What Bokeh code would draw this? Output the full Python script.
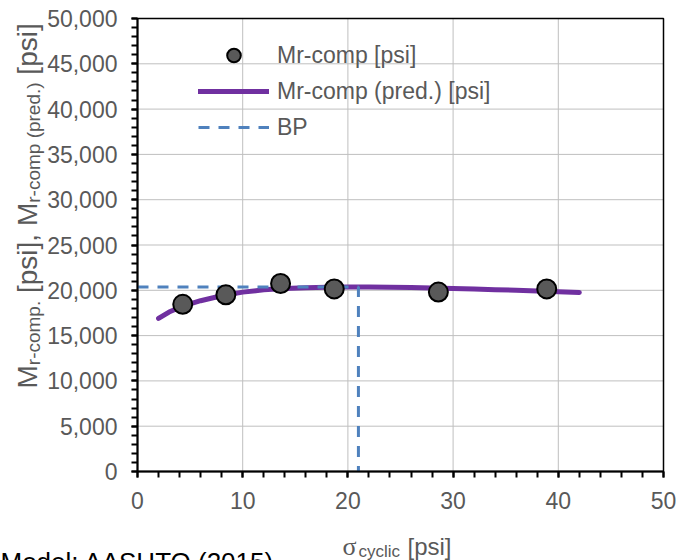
import math
from bokeh.plotting import figure
from bokeh.models import (Label, Legend, LegendItem, LinearAxis,
                          NumeralTickFormatter, SingleIntervalTicker, Range1d)
from bokeh.embed import file_html
from bokeh.resources import INLINE

# Measured resilient modulus vs cyclic stress
sigma_cyclic = [4.3, 8.4, 13.6, 18.7, 28.6, 38.9]
mr_comp = [18450, 19500, 20750, 20150, 19800, 20150]

# Model prediction (AASHTO 2015)
pred_sigma = [2, 3, 4, 5, 6, 8, 10, 12, 14, 16, 18, 20, 22, 24, 26, 28, 30,
              32, 34, 36, 38, 40, 42]
pred_mr = [16900, 17600, 18100, 18500, 18850, 19400, 19800, 20050, 20200,
           20280, 20330, 20360, 20360, 20340, 20300, 20250, 20200, 20140,
           20070, 20000, 19930, 19850, 19760]

# Break point
bp_sigma = 21.0
bp_mr = 20370

# Axis extents and tick spacing
X_MAX, X_STEP = 50, 10
Y_MAX, Y_STEP = 50000, 5000

GRAY_TEXT = "#595959"
GRID = "#BFBFBF"
FONT = "Liberation Sans"

W_CANVAS, H_CANVAS = 676, 560
# plot area on the canvas (pixels from the top-left corner)
AREA_L, AREA_R, AREA_T, AREA_B = 137, 663, 18, 471

# Liberation Sans advance widths (per 1000 em)
W = {"M": 833, "r": 333, "-": 333, "c": 500, "o": 556, "m": 833, "p": 556,
     ".": 278, " ": 278, "[": 278, "]": 278, "s": 500, "i": 222, ",": 278,
     "(": 333, ")": 333, "e": 556, "d": 556, "y": 500, "l": 222}


def text_width(s, size):
    return sum(W.get(ch, 556) for ch in s) / 1000.0 * size


# The data frame spans the whole canvas; the ranges are widened so that the
# 0..50 / 0..50000 plot area lands on the wanted pixels, which leaves room
# for unclipped titles around it.
kx = (AREA_R - AREA_L) / X_MAX
ky = (AREA_B - AREA_T) / Y_MAX
x_range = Range1d(-AREA_L / kx, X_MAX + (W_CANVAS - AREA_R) / kx)
y_range = Range1d(-(H_CANVAS - AREA_B) / ky, Y_MAX + AREA_T / ky)

p = figure(width=W_CANVAS, height=H_CANVAS, output_backend="svg",
           toolbar_location=None, x_range=x_range, y_range=y_range,
           x_axis_type=None, y_axis_type=None, min_border=0,
           title=None)
p.outline_line_color = None
p.background_fill_color = "white"
p.border_fill_color = "white"

# grid lines
xg = list(range(X_STEP, X_MAX, X_STEP))
yg = list(range(Y_STEP, Y_MAX, Y_STEP))
p.segment(x0=xg, y0=[0] * len(xg), x1=xg, y1=[Y_MAX] * len(xg),
          line_color=GRID, line_width=1)
p.segment(x0=[0] * len(yg), y0=yg, x1=[X_MAX] * len(yg), y1=yg,
          line_color=GRID, line_width=1)
# plot-area border
p.quad(left=[0], right=[X_MAX], bottom=[0], top=[Y_MAX], fill_color=None,
       line_color="black", line_width=1.5)

# axes pinned to the origin of the data
xaxis = LinearAxis(fixed_location=0, bounds=(0, X_MAX),
                   ticker=SingleIntervalTicker(interval=X_STEP,
                                               num_minor_ticks=5))
yaxis = LinearAxis(fixed_location=0, bounds=(0, Y_MAX),
                   ticker=SingleIntervalTicker(interval=Y_STEP,
                                               num_minor_ticks=5),
                   formatter=NumeralTickFormatter(format="0,0"))
for ax in (xaxis, yaxis):
    ax.axis_line_color = "black"
    ax.axis_line_width = 2
    ax.major_tick_line_color = "black"
    ax.major_tick_line_width = 2
    ax.minor_tick_line_color = "black"
    ax.minor_tick_line_width = 2
    ax.major_tick_out = 6
    ax.major_tick_in = 0
    ax.minor_tick_out = 6
    ax.minor_tick_in = 0
    ax.major_label_text_font = FONT
    ax.major_label_text_font_size = "23px"
    ax.major_label_text_color = GRAY_TEXT
    ax.major_label_standoff = 14
p.add_layout(xaxis, "below")
p.add_layout(yaxis, "left")

# series
r_pred = p.line(pred_sigma, pred_mr, line_color="#7030A0", line_width=5,
                line_cap="round")
r_bp = p.line([0, bp_sigma, bp_sigma], [bp_mr, bp_mr, 0],
              line_color="#4F81BD", line_width=3, line_dash="11 9")
r_pts = p.scatter(sigma_cyclic, mr_comp, size=19, fill_color="#595959",
                  line_color="black", line_width=2)

legend = Legend(items=[
    LegendItem(label="Mr-comp [psi]", renderers=[r_pts]),
    LegendItem(label="Mr-comp (pred.) [psi]", renderers=[r_pred]),
    LegendItem(label="BP", renderers=[r_bp]),
], location=(198, H_CANVAS - 144), glyph_width=71, glyph_height=34,
    spacing=2, label_standoff=8, padding=0, margin=0, border_line_alpha=0,
    background_fill_alpha=0, label_text_font=FONT,
    label_text_font_size="23px", label_text_color=GRAY_TEXT)
p.add_layout(legend)


def run(txt, cx, cy, size, angle=0.0, color=GRAY_TEXT, font=FONT):
    p.add_layout(Label(x=cx, y=cy, x_units="canvas", y_units="canvas",
                       text=txt, angle=angle, text_font=font,
                       text_font_size=f"{size}px", text_color=color,
                       text_align="left", text_baseline="alphabetic"))


# y-axis title, rotated, reading upward: M_r-comp. [psi], M_r-comp (pred.) [psi]
big, small = 28, 19
base_x, sub_x = 27, 33
cy = 388
for txt, sub, gap in [("M", False, 0), ("r-comp.", True, 1),
                      ("[psi], M", False, 0), ("r-comp (pred.)", True, 1),
                      ("[psi]", False, 0)]:
    size = small if sub else big
    run(txt, sub_x if sub else base_x, cy, size, angle=math.pi / 2)
    cy -= text_width(txt, size) + gap * text_width(" ", big)

# x-axis title: sigma_cyclic [psi]
run("σ", 342, 546, 26, font="Liberation Serif")
run("cyclic", 358, 551, 17)
run("[psi]", 407, 546, 24)

# model caption
run("Model: AASHTO (2015)", 0, 561, 26, color="black")

open("out.html", "w").write(file_html(p, INLINE))
